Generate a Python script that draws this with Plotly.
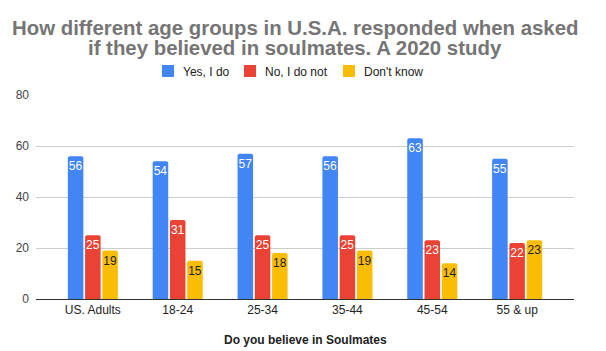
import plotly.graph_objects as go

categories = ["US. Adults", "18-24", "25-34", "35-44", "45-54", "55 & up"]
yes_vals = [56, 54, 57, 56, 63, 55]
no_vals = [25, 31, 25, 25, 23, 22]
dk_vals = [19, 15, 18, 19, 14, 23]
series_names = ["Yes, I do", "No, I do not", "Don't know"]
colors = ["#4285F4", "#EA4335", "#FBBC04"]
text_colors = ["#ffffff", "#ffffff", "#222222"]
y_ticks = [0, 20, 40, 60, 80]
title_lines = ["How different age groups in U.S.A. responded when asked",
               "if they believed in soulmates. A 2020 study"]
x_title = "Do you believe in Soulmates"

FONT = "Liberation Sans, Arial, sans-serif"
PL, PT, PW, PH = 36, 95, 538, 204


def px_x(x):
    return (x - PL) / PW


def px_y(y):
    return (PT + PH - y) / PH


fig = go.Figure()
for name, vals, c, tc in zip(series_names, [yes_vals, no_vals, dk_vals], colors, text_colors):
    fig.add_trace(go.Bar(
        x=categories, y=vals, name=name, marker_color=c,
        marker_line_width=0, showlegend=False,
        text=[str(v) for v in vals], textposition="inside",
        insidetextanchor="end", textangle=0,
        textfont=dict(color=tc, size=12, family=FONT),
        cliponaxis=False,
    ))

annotations = []
for i, (line, yy) in enumerate(zip(title_lines, [28, 48])):
    annotations.append(dict(
        text="<b>%s</b>" % line, xref="paper", yref="paper",
        x=px_x(295), y=px_y(yy), xanchor="center", yanchor="middle",
        showarrow=False, font=dict(family=FONT, size=20.4, color="#757575"),
    ))
annotations.append(dict(
    text="<b>%s</b>" % x_title, xref="paper", yref="paper",
    x=0.5, y=px_y(340), xanchor="center", yanchor="middle",
    showarrow=False, font=dict(family=FONT, size=12, color="#222222"),
))

# custom legend
shapes = []
leg_x = [162, 244, 343]
for name, c, lx in zip(series_names, colors, leg_x):
    shapes.append(dict(type="rect", xref="paper", yref="paper",
                       x0=px_x(lx), x1=px_x(lx + 12), y0=px_y(77), y1=px_y(65),
                       fillcolor=c, line=dict(width=0)))
    annotations.append(dict(
        text=name, xref="paper", yref="paper", x=px_x(lx + 19), y=px_y(71.5),
        xanchor="left", yanchor="middle", showarrow=False,
        font=dict(family=FONT, size=12, color="#222222"),
    ))

fig.update_layout(
    width=606, height=351,
    margin=dict(l=PL, r=606 - PL - PW, t=PT, b=351 - PT - PH, autoexpand=False),
    paper_bgcolor="white", plot_bgcolor="white",
    barmode="group", bargap=0.39, bargroupgap=0.1,
    barcornerradius=2,
    font=dict(family=FONT, size=12, color="#444444"),
    annotations=annotations, shapes=shapes,
    showlegend=False,
    uniformtext=dict(mode="show", minsize=12),
)
fig.update_xaxes(
    range=[-0.67, 5.67], automargin=False,
    showline=True, linecolor="#333333", linewidth=1,
    ticks="", tickfont=dict(size=12, color="#222222"),
)
fig.update_yaxes(
    range=[0, 80], tickvals=y_ticks, showgrid=True, gridcolor="#cccccc",
    zeroline=False, tickfont=dict(size=12, color="#444444"), ticks="",
    ticklabelstandoff=6, automargin=False,
)

fig.write_html("out.html")
